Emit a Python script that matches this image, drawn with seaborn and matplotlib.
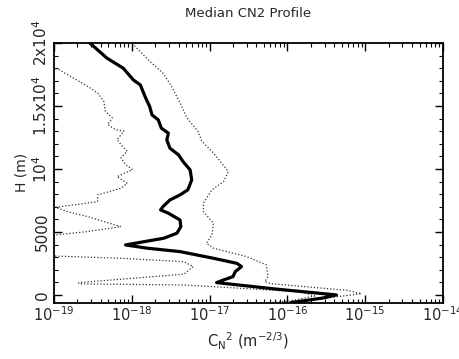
import numpy as np
import pandas as pd
import matplotlib
matplotlib.use("Agg")
import matplotlib.pyplot as plt
import matplotlib.ticker as mticker
import seaborn as sns

# ---- data (height in m, log10 of Cn^2) ----
med_h = [20000, 18800, 18000, 17070, 16670, 15750, 14950, 14290, 13900, 13240,
         12840, 12310, 11650, 11120, 10580, 9920, 9130, 8340, 7940, 7540,
         7010, 6750, 6490, 5950, 5420, 4900, 4500, 4230, 3970, 3710,
         3440, 2910, 2510, 2250, 1850, 1450, 1190, 980, 475, 0,
         -250, -600]
med_logc = [-18.54, -18.32, -18.11, -17.98, -17.89, -17.83, -17.77, -17.74, -17.66, -17.62,
            -17.53, -17.55, -17.51, -17.40, -17.34, -17.25, -17.23, -17.28, -17.38, -17.51,
            -17.60, -17.63, -17.53, -17.38, -17.37, -17.42, -17.59, -17.84, -18.08, -17.80,
            -17.38, -16.95, -16.65, -16.59, -16.67, -16.70, -16.82, -16.91, -16.16, -15.37,
            -15.55, -15.95]

low_h = [18200, 17890, 17360, 16570, 16040, 15380, 14580, 14050, 13520, 13120,
         13000, 12330, 11800, 11410, 10880, 10340, 9950, 9390, 8870, 8470,
         7940, 7410, 7150, 6960, 6620, 6220, 5420, 5030, 4760, 4650,
         3120, 3090, 2910, 2640, 2250, 1650, 980, 880, 790, 630,
         240, -80, -480, -650]
low_logc = [-19.10, -18.94, -18.79, -18.57, -18.44, -18.36, -18.34, -18.25, -18.31, -18.21,
            -18.10, -18.19, -18.12, -18.06, -18.14, -18.08, -17.99, -18.19, -18.06, -18.14,
            -18.44, -18.44, -18.74, -18.98, -18.83, -18.57, -18.14, -18.57, -18.98, -19.20,
            -19.20, -19.00, -18.14, -17.33, -17.21, -17.33, -18.68, -18.68, -17.33, -16.87,
            -15.84, -15.65, -15.97, -16.30]

up_h = [20000, 19750, 18550, 17620, 16570, 15240, 14050, 13000, 12200, 11270,
        9950, 9790, 9000, 8340, 7280, 6620, 5690, 4760, 4100, 3710,
        3040, 2380, 1450, 1060, 900, 370, 100, -250, -650]
up_logc = [-17.99, -17.96, -17.77, -17.60, -17.49, -17.38, -17.29, -17.15, -17.10, -16.95,
           -16.78, -16.76, -16.82, -16.97, -17.08, -17.08, -16.95, -16.97, -17.04, -16.95,
           -16.52, -16.27, -16.25, -16.29, -16.22, -15.24, -15.05, -15.50, -15.95]

y_ticks = [0, 5000, 10000, 15000, 20000]
y_tick_labels = ["0", "5000", "10$^{4}$", "1.5x10$^{4}$", "2x10$^{4}$"]
x_ticks = [1e-19, 1e-18, 1e-17, 1e-16, 1e-15, 1e-14]

# ---- figure ----
sns.set_style("ticks")
plt.rcParams["font.family"] = ["DejaVu Sans"]
plt.rcParams["mathtext.fontset"] = "dejavusans"

fig = plt.figure(figsize=(4.59, 3.59), dpi=100)
ax = fig.add_axes([54 / 459, 1 - 302.5 / 359, (443 - 54) / 459, (302.5 - 43) / 359])
ax.set_xscale("log")

def frame(h, lc, name):
    return pd.DataFrame({"h": h, "cn2": 10.0 ** np.asarray(lc), "s": name})

df_med = frame(med_h, med_logc, "median")
df_low = frame(low_h, low_logc, "low")
df_up = frame(up_h, up_logc, "up")

for d in (df_low, df_up):
    sns.lineplot(data=d, x="cn2", y="h", sort=False, estimator=None, ax=ax,
                 color="#333333", lw=0.9, linestyle=(0, (1, 1.6)))
sns.lineplot(data=df_med, x="cn2", y="h", sort=False, estimator=None, ax=ax,
             color="black", lw=2.3)

ax.set_xlim(1e-19, 1e-14)
ax.set_ylim(-600, 20000)

ax.set_xticks(x_ticks)
ax.xaxis.set_minor_locator(mticker.LogLocator(base=10, subs=np.arange(2, 10)))
ax.xaxis.set_minor_formatter(mticker.NullFormatter())
ax.set_yticks(y_ticks)
ax.set_yticklabels(y_tick_labels, rotation=90, va="center")
ax.yaxis.set_minor_locator(mticker.MultipleLocator(1000))

ax.tick_params(which="both", direction="in", top=True, right=True, color="black")
ax.tick_params(which="major", length=6, width=1.0)
ax.tick_params(which="minor", length=3, width=0.8)
ax.tick_params(axis="x", which="major", pad=2, labelsize=10.5)
ax.tick_params(axis="y", which="major", pad=3, labelsize=11)
for sp in ax.spines.values():
    sp.set_visible(True)
    sp.set_linewidth(1.3)
    sp.set_color("black")

ax.set_xlabel("C$_\\mathrm{N}$$^2$ (m$^{-2/3}$)", fontsize=10.5, labelpad=5)
ax.set_ylabel("H (m)", fontsize=10, labelpad=2)
ax.set_title("Median CN2 Profile", fontsize=9.5, pad=19)

fig.savefig("out.png", dpi=100)
